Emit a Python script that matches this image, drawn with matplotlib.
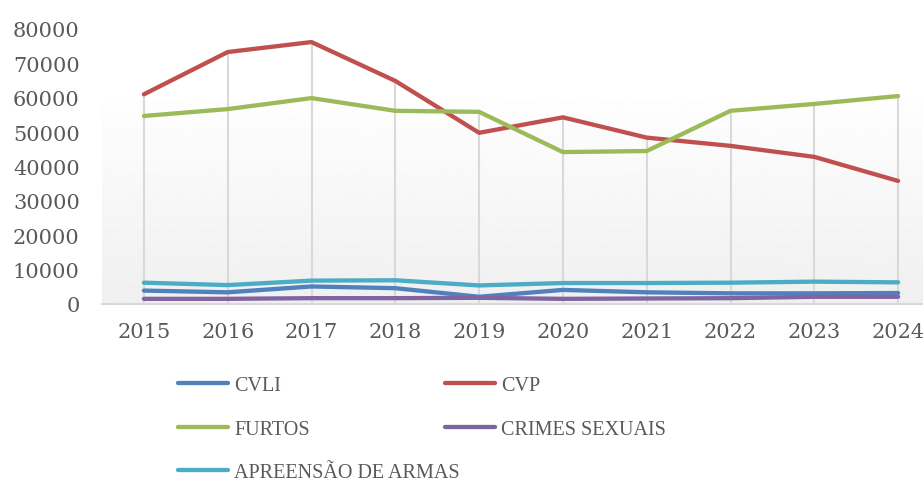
import numpy as np
import matplotlib
matplotlib.use('Agg')
from matplotlib import pyplot as plt

plt.rcParams['font.family'] = ['Liberation Serif', 'DejaVu Serif']

years = [2015, 2016, 2017, 2018, 2019, 2020, 2021, 2022, 2023, 2024]
cvli = [3900, 3400, 5100, 4600, 2100, 4100, 3400, 3100, 3100, 3200]
cvp = [61000, 73300, 76200, 64900, 49800, 54300, 48400, 46000, 42800, 35800]
furtos = [54700, 56700, 59900, 56200, 55900, 44200, 44500, 56200, 58200, 60500]
crimes = [1500, 1500, 1700, 1700, 1800, 1500, 1600, 1700, 2100, 2100]
armas = [6200, 5500, 6800, 6900, 5400, 6100, 6100, 6200, 6500, 6300]

names = ['CVLI', 'CVP', 'FURTOS', 'CRIMES SEXUAIS', 'APREENSÃO DE ARMAS']
series = [cvli, cvp, furtos, crimes, armas]
colors = ['#4F81BD', '#C0504D', '#9BBB59', '#8064A2', '#4BACC6']
txt = '#595959'

fig = plt.figure(figsize=(9.23, 4.85), dpi=100)
ax = fig.add_axes([102 / 923, 180 / 485, 838 / 923, 275 / 485])

# fundo em degradê (branco em cima, cinza claro embaixo)
grad = np.linspace(1.0, 0.94, 256).reshape(-1, 1)
ax.imshow(grad, cmap='gray', vmin=0, vmax=1, extent=[2014.5, 2024.5, 0, 63000],
          aspect='auto', zorder=0, interpolation='bicubic')

# linhas de projeção
tops = np.max(np.array(series), axis=0)
ax.vlines(years, 0, tops, color='#d9d9d9', lw=1.5, zorder=1)

lines = []
for vals, c, n in zip(series, colors, names):
    l, = ax.plot(years, vals, color=c, lw=3.1, label=n, zorder=3,
                 solid_capstyle='round', solid_joinstyle='round')
    lines.append(l)

ax.set_xlim(2014.5, 2024.5)
ax.set_ylim(0, 80000)
ax.set_xticks(years)
ax.set_yticks(range(0, 80001, 10000))
ax.tick_params(length=0, labelsize=15, colors=txt)
ax.tick_params(axis='x', pad=13)
ax.tick_params(axis='y', pad=16)
for lab in ax.get_xticklabels() + ax.get_yticklabels():
    lab.set_family('DejaVu Serif')
for s in ['top', 'right', 'left']:
    ax.spines[s].set_visible(False)
ax.spines['bottom'].set_color('#d9d9d9')
ax.spines['bottom'].set_linewidth(1.5)
ax.patch.set_alpha(0)

# legenda: uma entrada por linha/coluna, como no Excel
kw = dict(frameon=False, fontsize=14.5, handlelength=2.5, handletextpad=0.3,
          borderpad=0, borderaxespad=0, labelcolor=txt)
pos = [(178, 386), (445, 386), (178, 430), (445, 430), (178, 473)]
for l, n, (px, py) in zip(lines, names, pos):
    leg = fig.legend([l], [n], loc='center left',
                     bbox_to_anchor=(px / 923, 1 - py / 485), **kw)

fig.savefig('out.png', dpi=100)
